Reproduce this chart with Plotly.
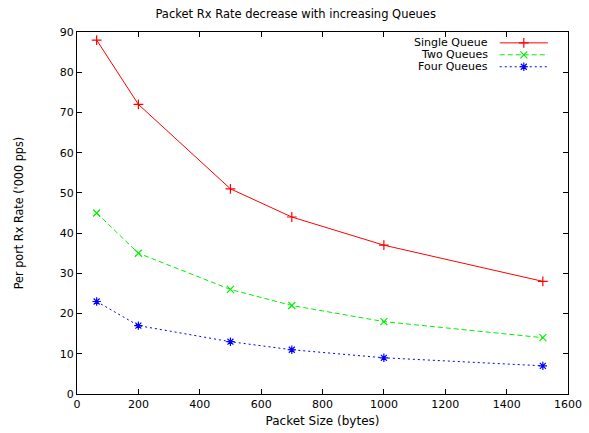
import plotly.graph_objects as go

packet_size = [64, 200, 500, 700, 1000, 1518]
single_queue = [88, 72, 51, 44, 37, 28]
two_queues = [45, 35, 26, 22, 18, 14]
four_queues = [23, 17, 13, 11, 9, 7]
series_names = ["Single Queue", "Two Queues", "Four Queues"]
x_ticks = [0, 200, 400, 600, 800, 1000, 1200, 1400, 1600]
y_ticks = [0, 10, 20, 30, 40, 50, 60, 70, 80, 90]

FONT = "DejaVu Sans, Liberation Sans, Arial, sans-serif"
NARROW = "Liberation Sans Narrow, DejaVu Sans Condensed, Liberation Sans, sans-serif"
styles = [
    dict(color="#ff0000", dash="solid", symbol="cross-thin-open"),
    dict(color="#00f000", dash="5px,3px", symbol="x-thin-open"),
    dict(color="#0000ff", dash="2px,3px", symbol="asterisk-open"),
]

fig = go.Figure()
for name, vals, st in zip(series_names, [single_queue, two_queues, four_queues], styles):
    fig.add_trace(go.Scatter(
        x=packet_size, y=vals, mode="lines+markers", name=name,
        line=dict(color=st["color"], width=1, dash=st["dash"]),
        marker=dict(symbol=st["symbol"], size=7, color=st["color"],
                    line=dict(color=st["color"], width=1.2)),
        showlegend=False,
    ))

# gnuplot-style key: text right-aligned, sample to the right
leg_y = [0.970, 0.937, 0.904]
for name, st, yy in zip(series_names, styles, leg_y):
    fig.add_trace(go.Scatter(
        x=[0.861, 0.959], y=[yy, yy], xaxis="x2", yaxis="y2", mode="lines",
        line=dict(color=st["color"], width=1, dash=st["dash"]), showlegend=False,
        hoverinfo="skip"))
    fig.add_trace(go.Scatter(
        x=[0.910], y=[yy], xaxis="x2", yaxis="y2", mode="markers",
        marker=dict(symbol=st["symbol"], size=7, color=st["color"],
                    line=dict(color=st["color"], width=1.2)),
        showlegend=False, hoverinfo="skip"))
    fig.add_annotation(x=0.841, y=yy, xref="x2", yref="y2", text=name,
                       showarrow=False, xanchor="right", yanchor="middle",
                       font=dict(family=FONT, size=11, color="black"))

axis_common = dict(
    showgrid=False, zeroline=False, showline=True, linecolor="black", linewidth=1,
    mirror="ticks", ticks="inside", ticklen=5, tickcolor="black", automargin=False,
    tickfont=dict(family=FONT, size=11, color="black"),
)
fig.update_layout(
    width=589, height=433,
    margin=dict(l=77, r=21, t=32, b=39),
    plot_bgcolor="white", paper_bgcolor="white",
    title=dict(text="Packet Rx Rate decrease with increasing Queues",
               x=0.502, xanchor="center", y=0.967, yanchor="middle",
               font=dict(family=FONT, size=11.5, color="black")),
    xaxis=dict(range=[0, 1600], tickvals=x_ticks, **axis_common,
               title=dict(text="Packet Size (bytes)", standoff=6,
                          font=dict(family=FONT, size=12, color="black"))),
    yaxis=dict(range=[0, 90], tickvals=y_ticks, **axis_common,
               title=dict(text="Per port Rx Rate ('000 pps)", standoff=33,
                          font=dict(family=NARROW, size=12.5, color="black"))),
    xaxis2=dict(range=[0, 1], overlaying="x", visible=False),
    yaxis2=dict(range=[0, 1], overlaying="y", visible=False),
    showlegend=False,
)

fig.write_html("out.html", config={"displayModeBar": False},
               post_script="document.body.style.margin='0';document.body.style.overflow='hidden';")
